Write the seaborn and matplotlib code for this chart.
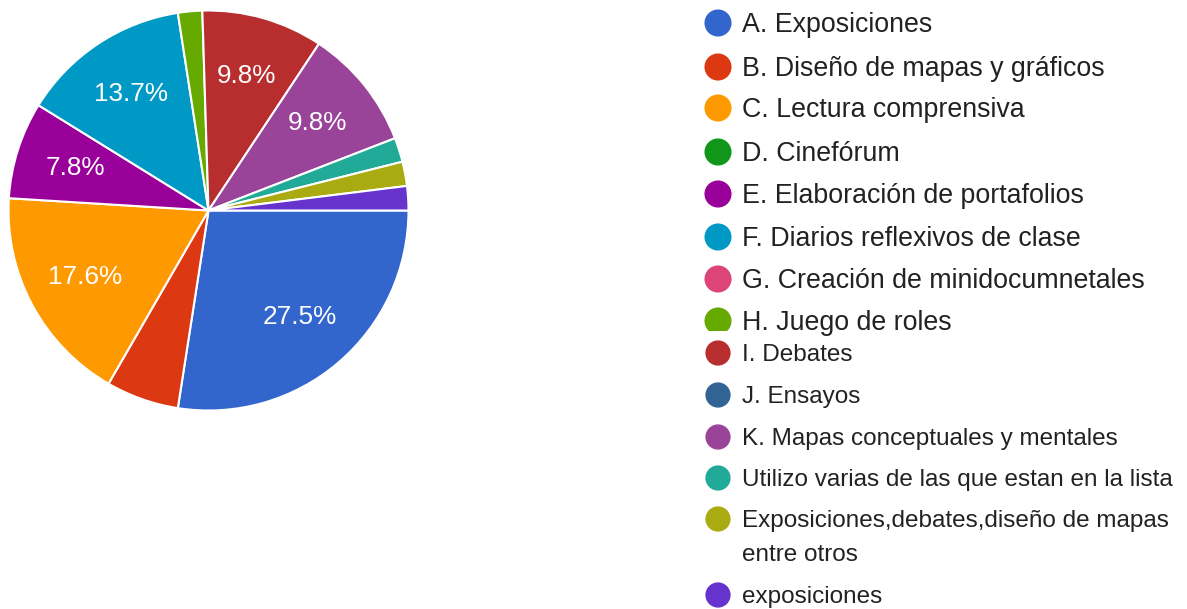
#!/usr/bin/env python3
"""Pie chart of teaching strategies (Google Forms style)"""

import matplotlib
matplotlib.use('agg')
import matplotlib.pyplot as plt
from matplotlib.patches import Rectangle

import seaborn as sns

# answers and response counts (51 responses)
labels = [
    'A. Exposiciones',
    'B. Diseño de mapas y gráficos',
    'C. Lectura comprensiva',
    'D. Cinefórum',
    'E. Elaboración de portafolios',
    'F. Diarios reflexivos de clase',
    'G. Creación de minidocumnetales',
    'H. Juego de roles',
    'I. Debates',
    'J. Ensayos',
    'K. Mapas conceptuales y mentales',
    'Utilizo varias de las que estan en la lista',
    'Exposiciones,debates,diseño de mapas\nentre otros',
    'exposiciones',
]
counts = [14, 3, 9, 0, 4, 7, 0, 1, 5, 0, 5, 1, 1, 1]
colors = ['#3366cc', '#dc3912', '#ff9900', '#109618', '#990099', '#0099c6',
          '#dd4477', '#66aa00', '#b82e2e', '#316395', '#994499', '#22aa99',
          '#aaaa11', '#6633cc']
# legend row centres (pixels from top), reference is a scrolled list
legend_y = [23, 67, 108, 152, 194, 237, 279, 321, 353, 395, 437, 478, 519, 595]


def main():
    sns.set_theme(style='white')
    plt.rcParams['font.family'] = ['Liberation Sans', 'DejaVu Sans']
    W, H = 1187, 609
    fig = plt.figure(figsize=(W / 100, H / 100), dpi=100)

    # pie: centre (208, 210), radius 200 px
    cx, cy, rad = 208.5, 210.5, 200
    ax = fig.add_axes([(cx - rad) / W, (H - cy - rad) / H, 2 * rad / W, 2 * rad / H])
    pal = sns.color_palette(colors)
    vals = [c for c in counts if c > 0]
    cols = [pal[i] for i, c in enumerate(counts) if c > 0]

    def _pct(p):
        return '{:.1f}%'.format(p) if p >= 7 else ''

    ax.pie(vals, colors=cols, startangle=0, counterclock=False,
           autopct=_pct, pctdistance=0.7, radius=1,
           wedgeprops=dict(edgecolor='white', linewidth=1.5),
           textprops=dict(color='white', fontsize=18.8))
    ax.set_xlim(-1, 1)
    ax.set_ylim(-1, 1)
    ax.set_aspect('equal')
    ax.axis('off')

    # legend drawn in pixel coordinates
    ov = fig.add_axes([0, 0, 1, 1])
    ov.set_xlim(0, W)
    ov.set_ylim(H, 0)
    ov.axis('off')
    ov.patch.set_alpha(0)
    clip = Rectangle((690, 0), 497, 331, transform=ov.transData)
    for i, (lab, col, yy) in enumerate(zip(labels, pal, legend_y)):
        # the upper part of the scrolled legend is drawn a little larger
        top = i <= 7
        fsize = 19.3 if top else 17.5
        dot = ov.scatter([718], [yy], s=380 if top else 330, color=col, edgecolor='none')
        if '\n' in lab:
            first, second = lab.split('\n')
            txt = ov.text(742, yy + 2, first, fontsize=fsize, color='#222222', va='center')
            ov.text(742, 555, second, fontsize=fsize, color='#222222', va='center')
        else:
            txt = ov.text(742, yy + 2, lab, fontsize=fsize, color='#222222', va='center')
        if i == 7:
            dot.set_clip_path(clip)
            txt.set_clip_path(clip)

    fig.savefig('out.png', dpi=100, facecolor='white')


if __name__ == '__main__':
    main()
